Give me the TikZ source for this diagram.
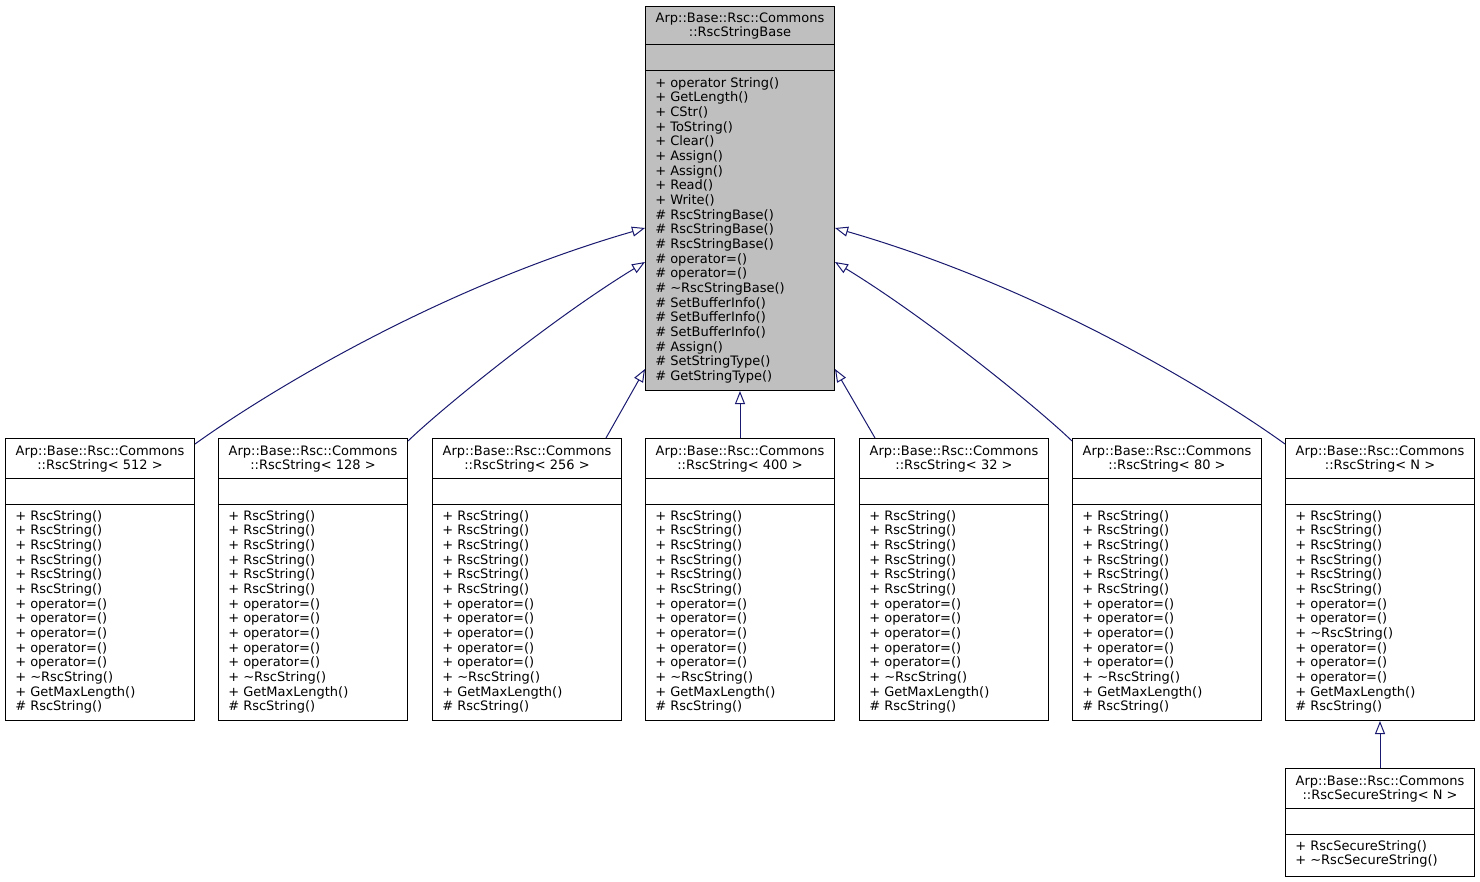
\documentclass[tikz,border=0pt]{standalone}
\usepackage{fontspec}
\setmainfont{DejaVu Sans}
\usetikzlibrary{arrows.meta,calc}
\definecolor{navy}{HTML}{191970}
\definecolor{basegray}{HTML}{BFBFBF}
\newcommand\rscstrmembers{+ RscString()\\+ RscString()\\+ RscString()\\+ RscString()\\+ RscString()\\+ RscString()\\%
+ operator=()\\+ operator=()\\+ operator=()\\+ operator=()\\+ operator=()\\%
+ \textasciitilde RscString()\\+ GetMaxLength()\\\# RscString()}
\tikzset{
    >={Triangle[open,length=9.75pt,width=7.5pt]},
    cls/.style={draw=black, line width=0.75pt, inner sep=0pt, anchor=north west, minimum width=141.75pt},
    title/.style={align=center, inner sep=0pt, font=\fontsize{9.75}{11}\selectfont},
    members/.style={align=left, anchor=north west, inner sep=0pt, font=\fontsize{9.75}{11}\selectfont},
    inherit/.style={->, draw=navy, fill=white, line width=0.75pt},
}

\begin{document}
\begin{tikzpicture}[x=0.75pt,y=-0.75pt]
    \useasboundingbox (0,0) rectangle (1480,881);

    % base class
    \node[cls, fill=basegray, minimum height=288pt] (base) at (645,6) {};
    \node[title] at ($(base.north)+(0,20)$) {Arp::Base::Rsc::Commons\\::RscStringBase};
    \draw[line width=0.75pt] ($(base.north west)+(0,39)$) -- ($(base.north east)+(0,39)$);
    \draw[line width=0.75pt] ($(base.north west)+(0,65)$) -- ($(base.north east)+(0,65)$);
    \node[members] at ($(base.north west)+(10,71)$) {+ operator String()\\+ GetLength()\\+ CStr()\\+ ToString()\\+ Clear()\\%
        + Assign()\\+ Assign()\\+ Read()\\+ Write()\\\# RscStringBase()\\\# RscStringBase()\\\# RscStringBase()\\%
        \# operator=()\\\# operator=()\\\# \textasciitilde RscStringBase()\\\# SetBufferInfo()\\\# SetBufferInfo()\\%
        \# SetBufferInfo()\\\# Assign()\\\# SetStringType()\\\# GetStringType()};

    % template instances
    \foreach \x/\n in {5/512, 218/128, 432/256, 645/400, 859/32, 1072/80}{
        \node[cls, minimum height=211.5pt] (r\n) at (\x,438) {};
        \node[title] at ($(r\n.north)+(0,21)$) {Arp::Base::Rsc::Commons\\::RscString< \n\ >};
        \draw[line width=0.75pt] ($(r\n.north west)+(0,40)$) -- ($(r\n.north east)+(0,40)$);
        \draw[line width=0.75pt] ($(r\n.north west)+(0,66)$) -- ($(r\n.north east)+(0,66)$);
        \node[members] at ($(r\n.north west)+(10,72)$) {\rscstrmembers};
    }

    % generic template
    \node[cls, minimum height=211.5pt] (rN) at (1285,438) {};
    \node[title] at ($(rN.north)+(0,21)$) {Arp::Base::Rsc::Commons\\::RscString< N >};
    \draw[line width=0.75pt] ($(rN.north west)+(0,40)$) -- ($(rN.north east)+(0,40)$);
    \draw[line width=0.75pt] ($(rN.north west)+(0,66)$) -- ($(rN.north east)+(0,66)$);
    \node[members] at ($(rN.north west)+(10,72)$) {+ RscString()\\+ RscString()\\+ RscString()\\+ RscString()\\%
        + RscString()\\+ RscString()\\+ operator=()\\+ operator=()\\+ \textasciitilde RscString()\\%
        + operator=()\\+ operator=()\\+ operator=()\\+ GetMaxLength()\\\# RscString()};

    % secure string
    \node[cls, minimum height=81pt] (rsec) at (1285,768) {};
    \node[title] at ($(rsec.north)+(0,21)$) {Arp::Base::Rsc::Commons\\::RscSecureString< N >};
    \draw[line width=0.75pt] ($(rsec.north west)+(0,40)$) -- ($(rsec.north east)+(0,40)$);
    \draw[line width=0.75pt] ($(rsec.north west)+(0,66)$) -- ($(rsec.north east)+(0,66)$);
    \node[members] at ($(rsec.north west)+(10,72)$) {+ RscSecureString()\\+ \textasciitilde RscSecureString()};

    % inheritance
    \draw[inherit] ($(r512.north east)+(0,6)$) .. controls +(61,-44) and +(-215,62) .. ($(base.north west)+(0,222)$);
    \draw[inherit] ($(r128.north east)+(0,3)$) .. controls +(32,-31) and +(-95,58) .. ($(base.north west)+(0,256)$);
    \draw[inherit] ($(r256.north west)+(174,0)$) -- ($(base.south west)+(0,-22)$);
    \draw[inherit] (r400.north) -- (base.south);
    \draw[inherit] ($(r32.north west)+(16,0)$) -- ($(base.south east)+(0,-22)$);
    \draw[inherit] ($(r80.north west)+(0,3)$) .. controls +(-32,-31) and +(95,58) .. ($(base.north east)+(0,256)$);
    \draw[inherit] ($(rN.north west)+(0,6)$) .. controls +(-61,-44) and +(215,62) .. ($(base.north east)+(0,222)$);
    \draw[inherit] (rsec.north) -- (rN.south);
\end{tikzpicture}
\end{document}
